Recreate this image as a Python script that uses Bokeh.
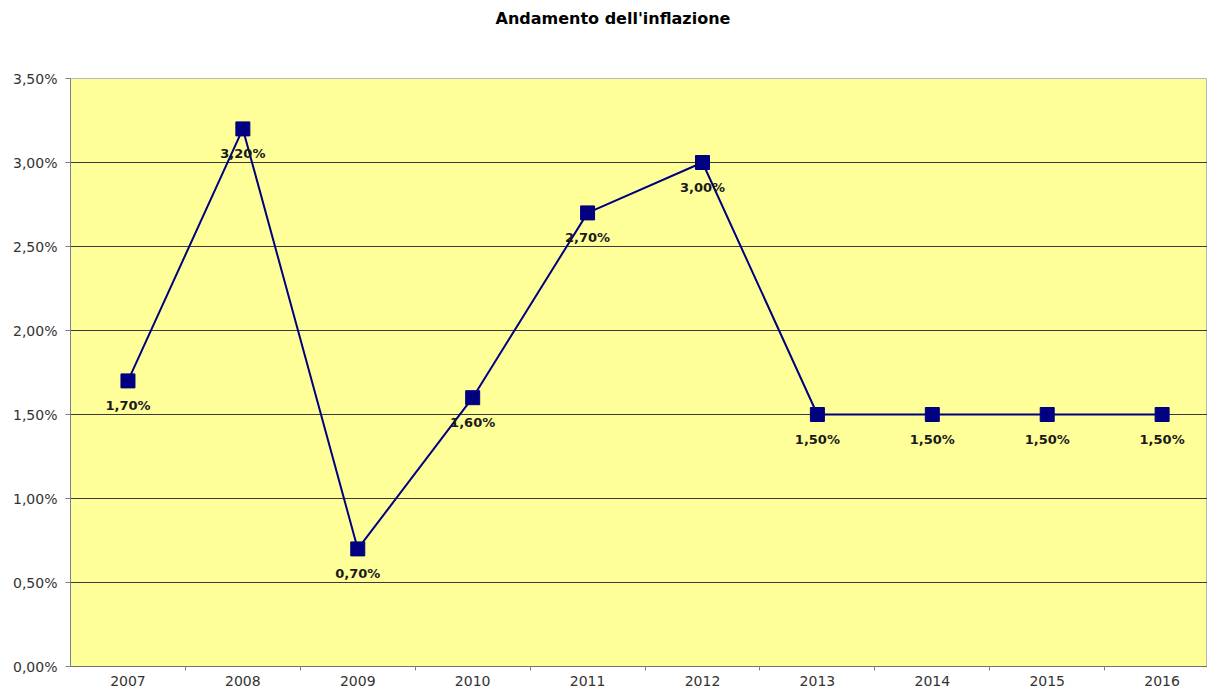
from bokeh.plotting import figure
from bokeh.models import FixedTicker, ColumnDataSource, Range1d, Title
from bokeh.core.properties import value
from bokeh.embed import file_html
from bokeh.resources import INLINE

years = ["2007", "2008", "2009", "2010", "2011", "2012", "2013", "2014", "2015", "2016"]
inflation = [1.70, 3.20, 0.70, 1.60, 2.70, 3.00, 1.50, 1.50, 1.50, 1.50]
point_labels = ["1,70%", "3,20%", "0,70%", "1,60%", "2,70%", "3,00%", "1,50%", "1,50%", "1,50%", "1,50%"]
y_ticks = [0.0, 0.5, 1.0, 1.5, 2.0, 2.5, 3.0, 3.5]
y_tick_labels = ["0,00%", "0,50%", "1,00%", "1,50%", "2,00%", "2,50%", "3,00%", "3,50%"]
title_text = "Andamento dell'inflazione"

FONT = "DejaVu Sans"
xs = list(range(len(years)))
src = ColumnDataSource(dict(x=xs, y=inflation, lab=point_labels))

p = figure(width=1207, height=688, output_backend="svg", toolbar_location=None,
           x_range=Range1d(-0.5, 9.395), y_range=Range1d(0, 3.5),
           min_border_left=70, min_border_right=0, min_border_top=78, min_border_bottom=21)

# spacer (closest to the frame), then the real title above it
spacer = Title(text=" ", text_font=FONT, text_font_size="16px", standoff=30)
p.add_layout(spacer, "above")
main_title = Title(text=title_text, text_font=FONT, text_font_size="16px", text_font_style="bold",
                   align="left", offset=425, standoff=0, text_color="#000000")
p.add_layout(main_title, "above")

p.background_fill_color = "#FFFF99"
p.border_fill_color = "white"
p.outline_line_color = "#b8b8b8"

# grid
p.xgrid.grid_line_color = None
p.ygrid.ticker = FixedTicker(ticks=y_ticks[1:-1])
p.ygrid.grid_line_color = "#3a3a3a"
p.ygrid.grid_line_width = 1

# y axis
p.yaxis.ticker = FixedTicker(ticks=y_ticks)
p.yaxis.major_label_overrides = {t: l for t, l in zip(y_ticks, y_tick_labels)}
p.yaxis.axis_line_color = "#808080"
p.yaxis.major_tick_line_color = "#808080"
p.yaxis.major_tick_out = 5
p.yaxis.major_tick_in = 0
p.yaxis.minor_tick_line_color = None
p.yaxis.major_label_text_font = FONT
p.yaxis.major_label_text_font_size = "14px"
p.yaxis.major_label_text_color = "#333333"
p.yaxis.major_label_standoff = 8

# x axis
p.xaxis.ticker = FixedTicker(ticks=xs, minor_ticks=[i + 0.5 for i in xs[:-1]])
p.xaxis.major_label_overrides = {i: y for i, y in zip(xs, years)}
p.xaxis.axis_line_color = "#707070"
p.xaxis.major_tick_out = 0
p.xaxis.major_tick_in = 0
p.xaxis.major_tick_line_color = None
p.xaxis.minor_tick_line_color = "#808080"
p.xaxis.minor_tick_out = 4
p.xaxis.minor_tick_in = 0
p.xaxis.major_label_text_font = FONT
p.xaxis.major_label_text_font_size = "14px"
p.xaxis.major_label_text_color = "#333333"
p.xaxis.major_label_standoff = 5

p.line("x", "y", source=src, line_color="#000080", line_width=2)
p.scatter("x", "y", source=src, marker="square", size=14, fill_color="#000080", line_color="#000080")
p.text("x", "y", text="lab", source=src, text_align="center", text_baseline="top", y_offset=17,
       text_font=value(FONT), text_font_size="13px", text_font_style="bold", text_color="#1a1a1a")

open("out.html", "w").write(file_html(p, INLINE))
